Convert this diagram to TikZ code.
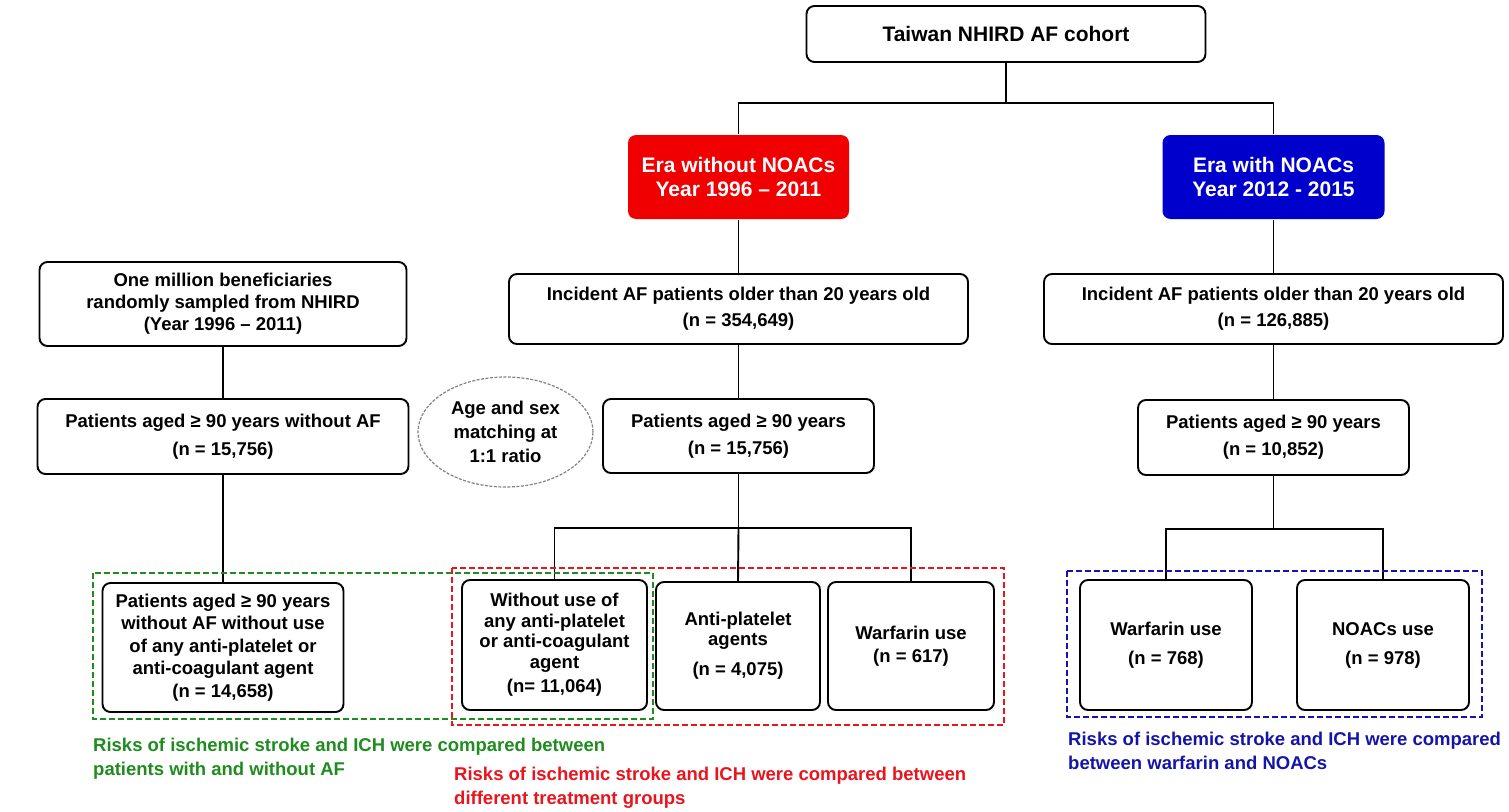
\documentclass[tikz,border=0pt]{standalone}
\usepackage{fontspec}
\setmainfont{Liberation Sans}
\usetikzlibrary{shapes.geometric}
\definecolor{erared}{RGB}{240,0,0}
\definecolor{erablue}{RGB}{0,0,204}
\definecolor{grn}{RGB}{30,140,30}
\definecolor{redtxt}{RGB}{232,20,30}
\definecolor{bluetxt}{RGB}{20,20,170}
\definecolor{ellgray}{RGB}{130,130,130}
\begin{document}
\begin{tikzpicture}[x=1pt,y=-1pt,
  box/.style={draw=black, line width=1.9pt, rounded corners=8pt, fill=white, align=center, inner sep=0pt,
    font=\fontsize{18.5}{22}\selectfont\bfseries},
  erabox/.style={box, draw=none, text=white, font=\fontsize{21}{24}\selectfont\bfseries},
  link/.style={line width=1.9pt},
  grp/.style={line width=1.8pt, dash pattern=on 6pt off 3pt},
  note/.style={anchor=west, align=left, inner sep=0pt, font=\fontsize{18.5}{24}\selectfont\bfseries}]
\useasboundingbox (0,0) rectangle (1509,811);

% top level
\node[box, minimum width=399, minimum height=56, font=\fontsize{21}{24}\selectfont\bfseries] (top) at (1006,34) {Taiwan NHIRD AF cohort};
\node[erabox, fill=erared, minimum width=221, minimum height=84] (red) at (738.5,177) {Era without NOACs\\Year 1996 -- 2011};
\node[erabox, fill=erablue, minimum width=222, minimum height=84] (blue) at (1273.5,177) {Era with NOACs\\Year 2012 - 2015};

% middle column
\node[box, minimum width=459, minimum height=70] (midInc) at (738.5,309) {Incident AF patients older than 20 years old\\[4pt](n = 354,649)};
\node[box, minimum width=271, minimum height=74] (midPat) at (738.5,436) {Patients aged ≥ 90 years\\[5pt](n = 15,756)};

% right column
\node[box, minimum width=459, minimum height=70] (rInc) at (1273.5,309) {Incident AF patients older than 20 years old\\[4pt](n = 126,885)};
\node[box, minimum width=271, minimum height=75] (rPat) at (1273.5,437.5) {Patients aged ≥ 90 years\\[5pt](n = 10,852)};

% left column
\node[box, minimum width=367, minimum height=84] (lOne) at (223,304) {One million beneficiaries\\randomly sampled from NHIRD\\(Year 1996 -- 2011)};
\node[box, minimum width=371, minimum height=75] (lPat) at (223,436.5) {Patients aged ≥ 90 years without AF\\[6pt](n = 15,756)};

% matching ellipse
\node[ellipse, draw=ellgray, dash pattern=on 3pt off 1.5pt, line width=1.2pt, minimum width=175, minimum height=110, inner sep=0pt, align=center,
  font=\fontsize{18.5}{24}\selectfont\bfseries] (match) at (505.5,432) {Age and sex\\matching at\\1:1 ratio};

% bottom boxes
\node[box, minimum width=241, minimum height=129, font=\fontsize{18.5}{22.4}\selectfont\bfseries] (lBot) at (223,647.5) {Patients aged ≥ 90 years\\without AF without use\\of any anti-platelet or\\anti-coagulant agent\\(n = 14,658)};
\node[box, minimum width=185, minimum height=130, font=\fontsize{18.5}{20.5}\selectfont\bfseries] (b1) at (554.5,645) {Without use of\\any anti-platelet\\or anti-coagulant\\agent\\[4pt](n= 11,064)};
\node[box, minimum width=164, minimum height=128, font=\fontsize{18.5}{20}\selectfont\bfseries] (b2) at (738,646) {Anti-platelet\\agents\\[10pt](n = 4,075)};
\node[box, minimum width=166, minimum height=128] (b3) at (911,646) {Warfarin use\\[1pt](n = 617)};
\node[box, minimum width=172, minimum height=130] (rw) at (1166,645) {Warfarin use\\[7pt](n = 768)};
\node[box, minimum width=172, minimum height=130] (rn) at (1383,645) {NOACs use\\[7pt](n = 978)};

% connectors
\coordinate (tj) at (1006,103);
\coordinate (mj) at (738.5,528);
\coordinate (rj) at (1273.5,529);
\draw[link] (top.south) -- (tj);
\draw[link] (red.north) |- (tj) -| (blue.north);
\draw[link] (red.south) -- (midInc.north);
\draw[link] (midInc.south) -- (midPat.north);
\draw[link] (midPat.south) -- (mj);
\draw[link] (b1.north) |- (mj) -| (b3.north);
\draw[link] (mj) -- (b2.north);
\draw[link] (blue.south) -- (rInc.north);
\draw[link] (rInc.south) -- (rPat.north);
\draw[link] (rPat.south) -- (rj);
\draw[link] (rw.north) |- (rj) -| (rn.north);
\draw[link] (lOne.south) -- (lPat.north);
\draw[link] (lPat.south) -- (lBot.north);

% comparison groups
\draw[grp, draw=grn] (93,573) rectangle (653,719);
\draw[grp, draw=redtxt] (452,568) rectangle (1004,725);
\draw[grp, draw=bluetxt] (1067,571) rectangle (1482,717);

\node[note, text=grn] (gnote) at (93,758.5) {Risks of ischemic stroke and ICH were compared between\\patients with and without AF};
\node[note, text=redtxt] (rnote) at (454,787.5) {Risks of ischemic stroke and ICH were compared between\\different treatment groups};
\node[note, text=bluetxt] (bnote) at (1068,751) {Risks of ischemic stroke and ICH were compared\\between warfarin and NOACs};
\end{tikzpicture}
\end{document}
